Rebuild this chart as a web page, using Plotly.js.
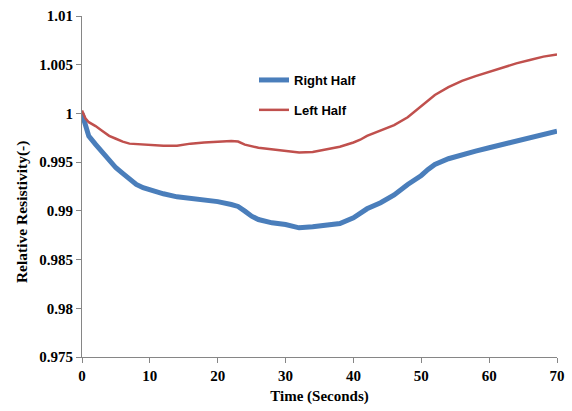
<!DOCTYPE html>
<html>
<head>
<meta charset="utf-8">
<script src="https://cdn.plot.ly/plotly-3.0.1.min.js"></script>
<style>html,body{margin:0;padding:0;background:#fff;}#chart{width:572px;height:411px;}</style>
</head>
<body>
<div id="chart"></div>
<script>
// Time (seconds) and relative resistivity
var timeRight = [0,0.25,0.5,1,2,3,4,5,6,7,8,9,10,12,14,16,18,20,22,23,24,25,26,28,30,32,34,36,38,40,41,42,44,46,48,50,51,52,54,56,58,60,62,64,66,68,70];
var rightHalf = [1.0000,0.9993,0.9986,0.99767,0.99682,0.99603,0.99528,0.99442,0.99384,0.99329,0.99271,0.99237,0.99212,0.99175,0.99144,0.99127,0.99112,0.99095,0.99065,0.99045,0.98997,0.98945,0.98911,0.98877,0.9886,0.98826,0.98836,0.9885,0.9887,0.98929,0.9898,0.99021,0.99083,0.99163,0.99271,0.99363,0.99425,0.99476,0.99535,0.99579,0.99613,0.99648,0.99682,0.99726,0.99761,0.99792,0.99818];

var timeLeft = [0,0.5,1,2,3,4,5,6,7,8,10,12,14,16,18,20,22,23,24,26,28,30,32,34,36,38,40,41,42,44,46,48,50,52,54,56,58,60,62,64,66,68,70];
var leftHalf = [1.0003,0.9995,0.9991,0.9987,0.9982,0.9977,0.9974,0.9971,0.9969,0.99685,0.9968,0.99668,0.99668,0.9969,0.99702,0.9971,0.99718,0.99712,0.9968,0.99648,0.9963,0.99613,0.99598,0.99605,0.9963,0.99658,0.99702,0.9973,0.9977,0.99828,0.9988,0.9996,1.00075,1.0019,1.0027,1.00334,1.00383,1.00428,1.00469,1.00514,1.00548,1.00583,1.00606];

var xTickVals = [0,10,20,30,40,50,60,70];
var yTickVals = [0.975,0.98,0.985,0.99,0.995,1,1.005,1.01];
var yTickText = ['0.975','0.98','0.985','0.99','0.995','1','1.005','1.01'];

var seriesNames = ['Right Half','Left Half'];
var xTitle = 'Time (Seconds)';
var yTitle = 'Relative Resistivity(-)';

var serif = 'Liberation Serif, Times New Roman, serif';

var traces = [
  {x: timeRight, y: rightHalf, name: seriesNames[0], type: 'scatter', mode: 'lines',
   line: {color: '#4A7EBB', width: 5}, legendgroup: 'a'},
  {x: timeLeft, y: leftHalf, name: seriesNames[1], type: 'scatter', mode: 'lines',
   line: {color: '#C0504D', width: 2.5}, legendgroup: 'b'}
];

var layout = {
  width: 572, height: 411,
  margin: {l: 82, r: 15, t: 16, b: 54},
  paper_bgcolor: '#fff', plot_bgcolor: '#fff',
  font: {family: serif, color: '#000'},
  showlegend: true,
  legend: {x: 0.3621, y: 0.8563, xanchor: 'left', yanchor: 'top',
    bgcolor: 'rgba(0,0,0,0)', borderwidth: 0, traceorder: 'grouped', tracegroupgap: 10,
    font: {family: 'Liberation Sans, Arial, sans-serif', size: 13, weight: 'bold', color: '#000'}},
  xaxis: {range: [0, 70], tickvals: xTickVals, showgrid: false, zeroline: false,
    showline: true, linecolor: '#868686', linewidth: 1,
    ticks: 'outside', ticklen: 5, tickcolor: '#868686',
    tickfont: {family: serif, size: 15, weight: 'bold', color: '#000'},
    title: {text: xTitle, font: {family: serif, size: 15, weight: 'bold', color: '#000'}, standoff: 7}},
  yaxis: {range: [0.975, 1.01], tickvals: yTickVals, ticktext: yTickText, showgrid: false, zeroline: false,
    showline: true, linecolor: '#868686', linewidth: 1,
    ticks: 'outside', ticklen: 5, tickcolor: '#868686',
    tickfont: {family: serif, size: 15, weight: 'bold', color: '#000'}},
  annotations: [
    {text: yTitle, xref: 'paper', yref: 'paper', x: -0.1263, y: 0.425,
     xanchor: 'center', yanchor: 'middle', textangle: -90, showarrow: false,
     font: {family: serif, size: 15.5, weight: 'bold', color: '#000'}}
  ]
};

Plotly.newPlot('chart', traces, layout, {displayModeBar: false, staticPlot: true});
</script>
</body>
</html>
